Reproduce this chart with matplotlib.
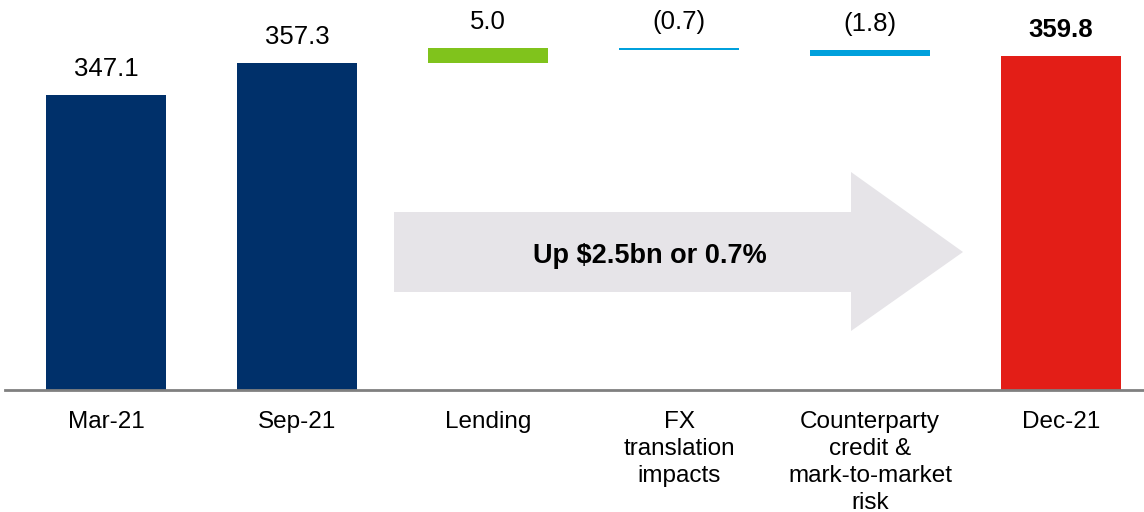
import matplotlib.pyplot as plt
import matplotlib.patches as patches

plt.rcParams['font.family'] = ['Liberation Sans', 'DejaVu Sans']

# data
categories = ['Mar-21', 'Sep-21', 'Lending', 'FX\ntranslation\nimpacts',
              'Counterparty\ncredit &\nmark-to-market\nrisk', 'Dec-21']
start_total = 357.3
prior_total = 347.1
end_total = 359.8
movements = [5.0, -0.7, -1.8]
labels = ['347.1', '357.3', '5.0', '(0.7)', '(1.8)', '359.8']
colors = ['#00306A', '#00306A', '#80C31C', '#00A0DC', '#00A0DC', '#E31E17']
arrow_text = 'Up $2.5bn or 0.7%'

fig = plt.figure(figsize=(11.44, 5.12), dpi=100)
ax = fig.add_axes([0, 122 / 512, 1, 390 / 512])

y0 = 251.9
ax.set_xlim(-106 / 191, (1144 - 106) / 191)
ax.set_ylim(y0, y0 + 390 / 3.1)

# build bar bottoms / heights
bottoms = [0, 0]
heights = [prior_total, start_total]
run = start_total
for m in movements:
    new = run + m
    bottoms.append(min(run, new))
    heights.append(abs(m))
    run = new
bottoms.append(0)
heights.append(end_total)

x = range(len(categories))
w = 120 / 191
ax.bar(x, heights, bottom=bottoms, width=w, color=colors)

# value labels
for i, (b, h, lab) in enumerate(zip(bottoms, heights, labels)):
    top = b + h
    bold = i == len(labels) - 1
    ax.annotate(lab, (i, top), xytext=(0, 26), textcoords='offset pixels',
                ha='center', va='center', fontsize=18.5,
                fontweight='bold' if bold else 'normal')

# baseline
ax.axhline(y0, xmin=5 / 1144, xmax=1, color='#808080', linewidth=2, clip_on=False)

# big arrow (pixel positions converted to axes fraction)
def pt(px, py):
    return (px / 1144, (390 - py) / 390)

arrow_pts = [pt(394, 212), pt(851, 212), pt(851, 172), pt(963, 252),
             pt(851, 331), pt(851, 292), pt(394, 292)]
ax.add_patch(patches.Polygon(arrow_pts, closed=True, transform=ax.transAxes,
                             facecolor='#E6E4E8', edgecolor='none', zorder=0))
ax.text(*pt(650, 256), arrow_text, transform=ax.transAxes, ha='center',
        va='center', fontsize=19.5, fontweight='bold')

ax.set_xticks(list(x))
ax.set_xticklabels(categories, fontsize=17.5, linespacing=1.3, va='top')
ax.tick_params(axis='x', length=0, pad=15)
ax.set_yticks([])
for s in ax.spines.values():
    s.set_visible(False)

fig.savefig('out.png', dpi=100)
